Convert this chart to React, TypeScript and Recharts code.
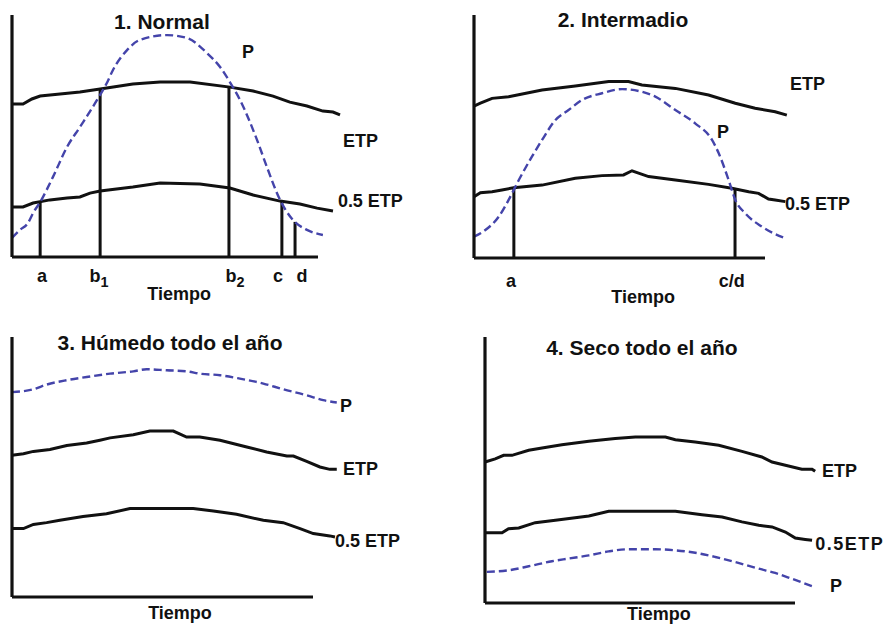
import { LineChart, Line, XAxis, YAxis, ReferenceLine, ReferenceDot } from 'recharts';

const FONT = '"Liberation Sans", Arial, sans-serif';
const INK = '#111111';
const RAIN = '#4444aa';

// tiempo 0–100 = largo del eje X, valor 0–100 = alto del eje Y
const T_MAX = 110;

// 1. Normal
const NORMAL_ETP = [
  [0, 63.2], [3.6, 63.2], [6.5, 65.3], [9.2, 66.5], [15.7, 67.4], [22.2, 68.2], [28.8, 69.4],
  [39.5, 71.5], [48.4, 72.3], [58.2, 72.3], [71.2, 70.2], [78.8, 68.6], [85.3, 66.5], [90.8, 64.0],
  [96.4, 62.4], [101.6, 60.3], [104.9, 59.9], [107.2, 58.7],
];
const NORMAL_HALF = [
  [0, 20.7], [3.6, 20.7], [6.9, 22.3], [12.4, 23.6], [18.0, 24.4], [22.2, 24.8], [25.5, 26.4],
  [28.8, 27.3], [39.5, 28.9], [48.4, 30.6], [61.4, 30.2], [71.2, 28.5], [78.8, 25.6], [87.6, 23.1],
  [94.1, 21.9], [99.7, 20.2], [104.9, 19.0],
];
const NORMAL_P = [
  [0, 7.9], [2.6, 11.2], [5.2, 14.0], [6.9, 18.2], [9.2, 22.7], [13.4, 33.1], [18.0, 45.5],
  [22.2, 53.7], [27.8, 64.9], [31.0, 71.9], [33.0, 77.3], [37.6, 85.5], [41.8, 89.7], [50.7, 91.7],
  [57.2, 90.5], [63.7, 84.3], [68.0, 78.5], [71.2, 72.3], [74.5, 64.9], [80.1, 48.3], [83.3, 37.2],
  [87.6, 23.6], [91.8, 15.3], [96.4, 11.2], [101.6, 9.1],
];
const NORMAL_MARKS = [[9.2, 22.7], [28.8, 69.4], [70.9, 70.2], [88.2, 23.1], [92.5, 14.5]];
const NORMAL_NOTES = [
  { t: 49.0, v: 94.2, text: '1. Normal', kind: 'title' },
  { t: 75.2, v: 82.2, text: 'P', kind: 'curve' },
  { t: 108.2, v: 45.5, text: 'ETP', kind: 'curve' },
  { t: 106.5, v: 20.7, text: '0.5 ETP', kind: 'curve' },
  { t: 9.8, v: -10.3, text: 'a', kind: 'tick' },
  { t: 28.4, v: -10.3, text: 'b', sub: '1', kind: 'tick' },
  { t: 72.9, v: -10.3, text: 'b', sub: '2', kind: 'tick' },
  { t: 86.9, v: -10.3, text: 'c', kind: 'tick' },
  { t: 94.8, v: -10.3, text: 'd', kind: 'tick' },
  { t: 54.6, v: -17.8, text: 'Tiempo', kind: 'tick' },
];

// 2. Intermadio
const INTER_ETP = [
  [0, 62.5], [2.2, 63.7], [6.2, 65.7], [11.9, 66.4], [23.4, 69.1], [34.8, 70.8], [46.3, 72.6],
  [53.1, 72.6], [57.7, 71.2], [69.2, 69.8], [80.6, 67.1], [89.8, 63.7], [96.6, 61.6], [103.5, 60.2],
  [107.5, 58.8],
];
const INTER_HALF = [
  [0, 25.2], [2.2, 26.9], [6.2, 27.3], [9.6, 28.0], [13.6, 28.9], [23.4, 30.0], [34.8, 32.8],
  [44.0, 33.9], [51.4, 34.2], [54.3, 35.9], [60.0, 33.5], [69.2, 32.1], [80.6, 30.3], [88.6, 28.7],
  [94.4, 27.3], [97.8, 26.6], [101.2, 24.3], [103.5, 23.9], [107.0, 23.2],
];
const INTER_P = [
  [0, 8.8], [3.9, 11.5], [8.5, 17.0], [11.9, 23.9], [15.4, 32.1], [19.9, 41.7], [23.4, 48.6],
  [28.0, 56.8], [32.5, 60.9], [37.1, 65.0], [44.0, 67.8], [50.9, 69.5], [57.7, 68.4], [62.3, 66.4],
  [69.2, 60.9], [76.0, 55.4], [81.8, 48.6], [84.1, 43.1], [87.5, 32.1], [89.8, 23.9], [93.2, 18.4],
  [98.9, 12.9], [107.0, 8.1],
];
const INTER_MARKS = [[13.7, 28.8], [89.7, 28.0]];
const INTER_NOTES = [
  { t: 51.2, v: 95.1, text: '2. Intermadio', kind: 'title' },
  { t: 108.6, v: 69.1, text: 'ETP', kind: 'curve' },
  { t: 83.5, v: 49.4, text: 'P', kind: 'curve' },
  { t: 106.9, v: 19.8, text: '0.5 ETP', kind: 'curve' },
  { t: 12.7, v: -11.9, text: 'a', kind: 'tick' },
  { t: 88.6, v: -11.9, text: 'c/d', kind: 'tick' },
  { t: 58.1, v: -18.5, text: 'Tiempo', kind: 'tick' },
];

// 3. Húmedo todo el año
const WET_P = [
  [0, 78.8], [7.1, 79.9], [11.5, 81.7], [18.2, 83.4], [24.8, 84.6], [32.6, 85.9], [40.3, 86.8],
  [44.7, 87.6], [51.4, 87.2], [58.0, 86.8], [62.4, 85.9], [69.1, 85.3], [75.7, 84.0], [83.5, 82.1],
  [90.1, 79.9], [97.9, 77.6], [103.4, 75.7], [107.9, 74.8],
];
const WET_ETP = [
  [0, 54.5], [3.8, 55.1], [7.1, 56.0], [12.6, 56.7], [18.2, 58.3], [24.8, 59.2], [29.2, 60.3],
  [32.6, 61.2], [40.3, 62.4], [45.8, 63.8], [53.6, 63.8], [58.0, 61.5], [62.4, 61.5], [69.1, 60.3],
  [78.0, 57.7], [84.6, 55.8], [91.3, 54.2], [93.5, 54.2], [97.9, 52.2], [102.3, 50.0], [105.6, 49.1],
  [107.9, 49.1],
];
const WET_HALF = [
  [0, 26.3], [3.8, 26.3], [7.1, 27.9], [11.5, 28.6], [15.9, 29.5], [23.6, 31.0], [31.4, 32.0],
  [39.2, 34.0], [45.8, 34.0], [60.2, 34.0], [66.9, 33.1], [74.6, 31.8], [83.5, 29.5], [90.1, 28.6],
  [95.7, 26.3], [100.1, 24.4], [105.6, 23.5], [107.3, 23.1],
];
const WET_NOTES = [
  { t: 52.5, v: 95.0, text: '3. Húmedo todo el año', kind: 'title' },
  { t: 109.0, v: 71.2, text: 'P', kind: 'curve' },
  { t: 110.0, v: 46.9, text: 'ETP', kind: 'curve' },
  { t: 107.3, v: 19.2, text: '0.5 ETP', kind: 'curve' },
  { t: 55.8, v: -8.5, text: 'Tiempo', kind: 'tick' },
];

// 4. Seco todo el año
const DRY_ETP = [
  [0, 53.0], [3.3, 54.2], [6.0, 55.5], [8.7, 55.5], [14.1, 57.4], [18.4, 58.3], [24.8, 59.5],
  [33.5, 60.8], [42.0, 61.8], [48.5, 62.4], [58.2, 62.4], [61.4, 61.4], [67.8, 60.5], [75.4, 59.3],
  [82.9, 57.0], [89.3, 54.9], [92.6, 53.0], [97.9, 51.5], [102.2, 50.3], [105.5, 50.3], [106.5, 49.5],
];
const DRY_HALF = [
  [0, 26.4], [5.5, 26.4], [7.6, 27.9], [10.9, 28.2], [16.2, 30.2], [22.7, 31.1], [33.5, 32.7],
  [39.9, 34.5], [61.4, 34.5], [70.0, 33.2], [76.5, 32.3], [82.9, 30.5], [88.3, 29.2], [92.6, 28.6],
  [96.9, 26.7], [100.1, 24.4], [103.3, 23.9], [105.5, 23.6],
];
const DRY_P = [
  [0.6, 11.7], [7.6, 12.3], [14.1, 13.8], [21.6, 15.7], [27.0, 16.7], [33.5, 17.9], [39.9, 19.4],
  [46.4, 20.2], [55.0, 20.2], [61.4, 19.8], [67.8, 18.9], [74.3, 17.3], [80.7, 15.4], [88.3, 12.9],
  [93.6, 11.3], [99.0, 9.1], [105.5, 6.3],
];
const DRY_NOTES = [
  { t: 50.6, v: 93.2, text: '4. Seco todo el año', kind: 'title' },
  { t: 108.7, v: 47.4, text: 'ETP', kind: 'curve' },
  { t: 106.5, v: 19.9, text: '0.5ETP', kind: 'spaced' },
  { t: 111.3, v: 4.1, text: 'P', kind: 'curve' },
  { t: 56.1, v: -6.4, text: 'Tiempo', kind: 'tick' },
];

const KIND_STYLE: Record<string, { size: number; anchor: 'start' | 'middle'; spacing?: number }> = {
  title: { size: 21, anchor: 'middle' },
  curve: { size: 18, anchor: 'start' },
  spaced: { size: 18, anchor: 'start', spacing: 1.5 },
  tick: { size: 18, anchor: 'middle' },
};

const M = { top: 15, right: 70, bottom: 50, left: 12 };

const PANELS = [
  { frame: { left: 12, top: 15, axisW: 306, axisH: 242 }, etp: NORMAL_ETP, half: NORMAL_HALF, p: NORMAL_P, marks: NORMAL_MARKS, notes: NORMAL_NOTES },
  { frame: { left: 474, top: 15, axisW: 291, axisH: 243 }, etp: INTER_ETP, half: INTER_HALF, p: INTER_P, marks: INTER_MARKS, notes: INTER_NOTES },
  { frame: { left: 12, top: 337, axisW: 301, axisH: 260 }, etp: WET_ETP, half: WET_HALF, p: WET_P, marks: [], notes: WET_NOTES },
  { frame: { left: 485, top: 337, axisW: 310, axisH: 266 }, etp: DRY_ETP, half: DRY_HALF, p: DRY_P, marks: [], notes: DRY_NOTES },
];

const pts = (arr: number[][]) => arr.map(([t, v]) => ({ t, v }));

function noteLabel(n: { text: string; sub?: string; kind: string }) {
  const st = KIND_STYLE[n.kind];
  return (props: any) => {
    const vb = props.viewBox || {};
    return (
      <text
        x={vb.x}
        y={vb.y}
        textAnchor={st.anchor}
        fontFamily={FONT}
        fontSize={st.size}
        fontWeight={700}
        letterSpacing={st.spacing}
        fill={INK}
      >
        {n.text}
        {n.sub && (
          <tspan fontSize={st.size * 0.8} dy={5}>
            {n.sub}
          </tspan>
        )}
      </text>
    );
  };
}

function Panel({ cfg }: { cfg: (typeof PANELS)[number] }) {
  const { left, top, axisW, axisH } = cfg.frame;
  const plotW = (axisW * T_MAX) / 100;
  return (
    <div style={{ position: 'absolute', left: left - M.left, top: top - M.top }}>
      <LineChart width={plotW + M.left + M.right} height={axisH + M.top + M.bottom} margin={M}>
        <XAxis type="number" dataKey="t" domain={[0, T_MAX]} hide />
        <YAxis type="number" dataKey="v" domain={[0, 100]} hide />
        <Line data={pts(cfg.etp)} dataKey="v" type="linear" stroke={INK} strokeWidth={3} dot={false} isAnimationActive={false} />
        <Line data={pts(cfg.half)} dataKey="v" type="linear" stroke={INK} strokeWidth={3} dot={false} isAnimationActive={false} />
        {cfg.marks.map(([t, v], i) => (
          <ReferenceLine key={'m' + i} segment={[{ x: t, y: 0 }, { x: t, y: v }]} stroke={INK} strokeWidth={3} />
        ))}
        <Line
          data={pts(cfg.p)}
          dataKey="v"
          type="monotone"
          stroke={RAIN}
          strokeWidth={2.4}
          strokeDasharray="8 4"
          dot={false}
          isAnimationActive={false}
        />
        <ReferenceLine segment={[{ x: 0, y: 0 }, { x: 0, y: 100 }]} stroke={INK} strokeWidth={3.2} />
        <ReferenceLine segment={[{ x: 0, y: 0 }, { x: 100, y: 0 }]} stroke={INK} strokeWidth={3.2} />
        {cfg.notes.map((n, i) => (
          <ReferenceDot key={'n' + i} x={n.t} y={n.v} r={0} ifOverflow="visible" label={noteLabel(n)} />
        ))}
      </LineChart>
    </div>
  );
}

export default function App() {
  return (
    <div style={{ position: 'absolute', left: 0, top: 0, width: 884, height: 625, overflow: 'hidden', background: '#fff' }}>
      {PANELS.map((cfg, i) => (
        <Panel key={i} cfg={cfg} />
      ))}
    </div>
  );
}
